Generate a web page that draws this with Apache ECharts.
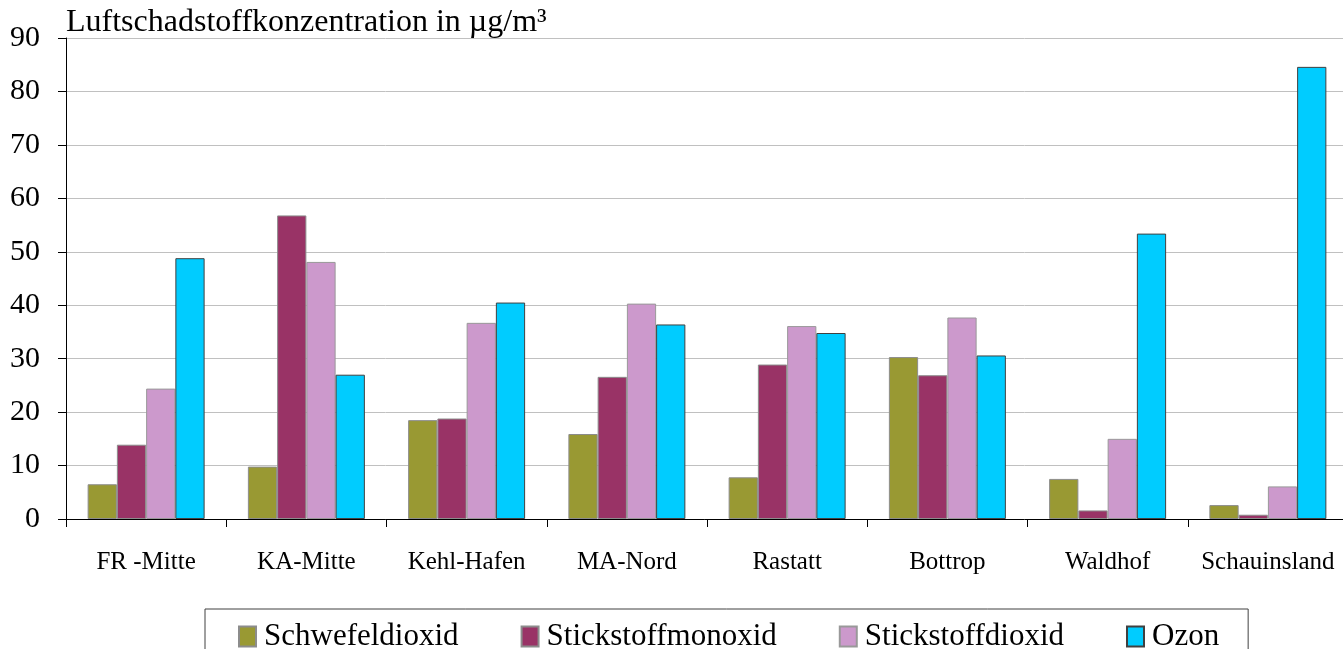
<!DOCTYPE html>
<html>
<head>
<meta charset="utf-8">
<script src="https://cdn.jsdelivr.net/npm/echarts@6/dist/echarts.min.js"></script>
<style>
  html, body { margin: 0; padding: 0; background: #ffffff; }
  #chart { width: 1343px; height: 649px; }
</style>
</head>
<body>
<div id="chart"></div>
<script>
// Messstationen
const stations = ['FR -Mitte', 'KA-Mitte', 'Kehl-Hafen', 'MA-Nord', 'Rastatt', 'Bottrop', 'Waldhof', 'Schauinsland'];

// Mittlere Konzentrationen in µg/m³
const schwefeldioxid    = [6.5, 9.8, 18.5, 15.9, 7.8, 30.3, 7.5, 2.6];
const stickstoffmonoxid = [13.9, 56.8, 18.8, 26.6, 28.9, 26.9, 1.6, 0.8];
const stickstoffdioxid  = [24.4, 48.1, 36.7, 40.3, 36.1, 37.7, 15.0, 6.1];
const ozon              = [48.8, 27.0, 40.5, 36.4, 34.8, 30.6, 53.4, 84.6];

const yTicks = [0, 10, 20, 30, 40, 50, 60, 70, 80, 90];

const FONT = '"Liberation Serif", "Times New Roman", serif';

function bar(name, data, color, border) {
  return {
    name: name,
    type: 'bar',
    data: data,
    barGap: '0%',
    barCategoryGap: '27%',
    itemStyle: { color: color, borderColor: border, borderWidth: 1 },
    emphasis: { disabled: true }
  };
}

const chart = echarts.init(document.getElementById('chart'), null, { renderer: 'canvas' });

chart.setOption({
  animation: false,
  backgroundColor: '#ffffff',
  title: {
    text: 'Luftschadstoffkonzentration in µg/m³',
    left: 66,
    top: 7,
    padding: 0,
    textStyle: { fontFamily: FONT, fontSize: 32, fontWeight: 'normal', color: '#000000' }
  },
  // the plot runs a few pixels past the right edge of the canvas
  grid: {
    left: 66, width: 1282, top: 38, bottom: 130,
    containLabel: false,
    outerBoundsMode: 'none'
  },
  xAxis: {
    type: 'category',
    data: stations,
    axisLine: { show: true, lineStyle: { color: '#000000', width: 1 } },
    axisTick: { show: true, length: 8, inside: false, alignWithLabel: false, lineStyle: { color: '#000000' } },
    axisLabel: { margin: 31, fontFamily: FONT, fontSize: 25, color: '#000000', interval: 0 },
    splitLine: { show: false }
  },
  yAxis: {
    type: 'value',
    min: yTicks[0],
    max: yTicks[yTicks.length - 1],
    interval: yTicks[1] - yTicks[0],
    axisLine: { show: true, lineStyle: { color: '#000000', width: 1 } },
    axisTick: { show: true, length: 8, lineStyle: { color: '#000000' } },
    axisLabel: { margin: 26, fontFamily: FONT, fontSize: 30, color: '#000000' },
    splitLine: { show: true, lineStyle: { color: '#c0c0c0', width: 1 } }
  },
  legend: {
    left: 205,
    top: 609,
    orient: 'horizontal',
    padding: [12, 29, 30, 33],
    itemGap: 62,
    itemWidth: 17,
    itemHeight: 20,
    borderColor: '#404040',
    borderWidth: 1,
    icon: 'rect',
    selectedMode: false,
    textStyle: { fontFamily: FONT, fontSize: 31, color: '#000000', padding: [0, 0, 0, 3] }
  },
  series: [
    bar('Schwefeldioxid', schwefeldioxid, '#999933', '#8c8c8c'),
    bar('Stickstoffmonoxid', stickstoffmonoxid, '#993366', '#8c8c8c'),
    bar('Stickstoffdioxid', stickstoffdioxid, '#cc99cc', '#999999'),
    bar('Ozon', ozon, '#00ccff', '#404040')
  ]
});
</script>
</body>
</html>
